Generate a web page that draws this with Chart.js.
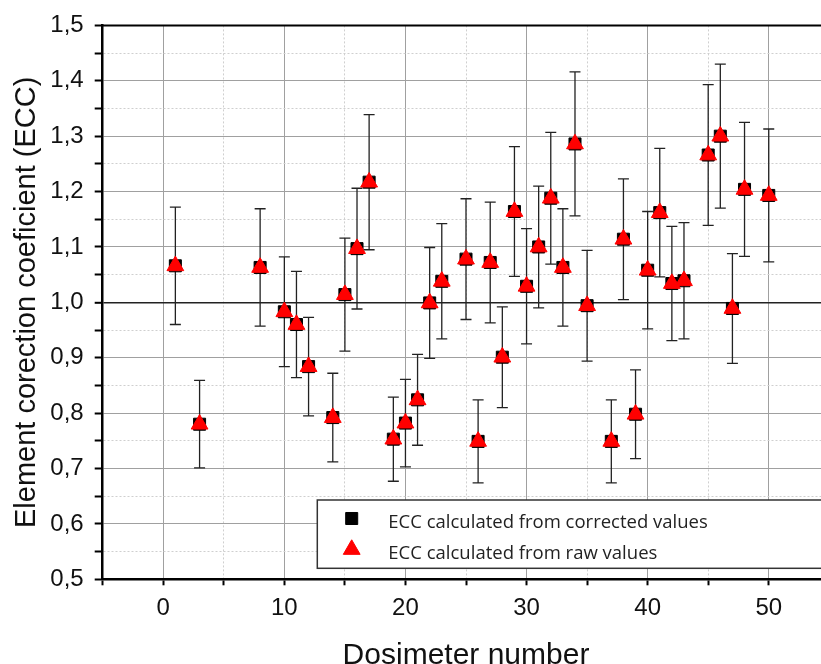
<!DOCTYPE html>
<html>
<head>
<meta charset="utf-8">
<title>ECC per dosimeter</title>
<script src="https://cdn.jsdelivr.net/npm/chart.js@4/dist/chart.umd.min.js"></script>
<style>
  html, body { margin: 0; padding: 0; background: #fff; overflow: hidden; }
  #wrap { position: relative; width: 840px; height: 680px; }
</style>
</head>
<body>
<div id="wrap"><canvas id="chart" width="840" height="680"></canvas></div>
<script>
// ── Données ──────────────────────────────────────────────────────────────────
var dosimeters = [1, 3, 8, 10, 11, 12, 14, 15, 16, 17, 19, 20, 21, 22, 23, 25, 26, 27, 28,
                  29, 30, 31, 32, 33, 34, 35, 37, 38, 39, 40, 41, 42, 43, 45, 46, 47, 48, 50];

var eccCorrected = [1.066, 0.780, 1.063, 0.983, 0.960, 0.884, 0.792, 1.014, 1.097, 1.217,
                    0.753, 0.782, 0.824, 0.999, 1.038, 1.078, 0.749, 1.072, 0.901, 1.164,
                    1.029, 1.100, 1.188, 1.063, 1.286, 0.994, 0.749, 1.114, 0.798, 1.058,
                    1.162, 1.034, 1.039, 1.266, 1.300, 0.989, 1.204, 1.193];

var eccRaw       = [1.066, 0.780, 1.063, 0.983, 0.960, 0.884, 0.792, 1.014, 1.097, 1.217,
                    0.753, 0.782, 0.824, 0.999, 1.038, 1.078, 0.749, 1.072, 0.901, 1.164,
                    1.029, 1.100, 1.188, 1.063, 1.286, 0.994, 0.749, 1.114, 0.798, 1.058,
                    1.162, 1.034, 1.039, 1.266, 1.300, 0.989, 1.204, 1.193];

var eccError     = [0.106, 0.079, 0.106, 0.099, 0.096, 0.089, 0.080, 0.102, 0.109, 0.122,
                    0.076, 0.079, 0.082, 0.100, 0.104, 0.109, 0.075, 0.109, 0.091, 0.117,
                    0.104, 0.110, 0.119, 0.106, 0.130, 0.100, 0.075, 0.109, 0.080, 0.106,
                    0.116, 0.103, 0.105, 0.127, 0.130, 0.099, 0.121, 0.120];

var labelCorrected = 'ECC calculated from corrected values';
var labelRaw       = 'ECC calculated from raw values';
var xTitle = 'Dosimeter number';
var yTitle = 'Element corection coeficient (ECC)';

function toPoints(xs, ys) {
    return xs.map(function (x, i) { return { x: x, y: ys[i] }; });
}

function isMajorY(v) {
    return Math.abs(v * 10 - Math.round(v * 10)) < 1e-6;
}

var AXIS_FONT = 'Liberation Sans, Arial, sans-serif';

// ── Barres d'erreur (sous les marqueurs) ─────────────────────────────────────
var errorBars = {
    id: 'errorBars',
    beforeDatasetsDraw: function (chart) {
        var xs = chart.scales.x, ys = chart.scales.y, ctx = chart.ctx;
        ctx.save();
        ctx.strokeStyle = '#222';
        ctx.lineWidth = 1.3;
        for (var i = 0; i < dosimeters.length; i++) {
            var px = xs.getPixelForValue(dosimeters[i]);
            var top = ys.getPixelForValue(eccCorrected[i] + eccError[i]);
            var bot = ys.getPixelForValue(eccCorrected[i] - eccError[i]);
            ctx.beginPath();
            ctx.moveTo(px, top); ctx.lineTo(px, bot);
            ctx.moveTo(px - 5.5, top); ctx.lineTo(px + 5.5, top);
            ctx.moveTo(px - 5.5, bot); ctx.lineTo(px + 5.5, bot);
            ctx.stroke();
        }
        ctx.restore();
    }
};

// ── Cadre haut + légende dans la zone du graphique ───────────────────────────
var frameAndLegend = {
    id: 'frameAndLegend',
    afterDraw: function (chart) {
        var ctx = chart.ctx, a = chart.chartArea;
        ctx.save();
        ctx.strokeStyle = '#000';
        ctx.lineWidth = 2;
        ctx.beginPath();
        ctx.moveTo(a.left, a.top);
        ctx.lineTo(a.right, a.top);
        ctx.stroke();

        var bx = a.left + 214.6, by = a.bottom - 79.3, bw = a.right - bx - 4, bh = 68.3;
        ctx.fillStyle = '#fff';
        ctx.fillRect(bx, by, bw, bh);
        ctx.strokeStyle = '#333';
        ctx.lineWidth = 1.5;
        ctx.strokeRect(bx, by, bw, bh);

        var rows = [
            { ds: chart.data.datasets[1], y: by + 18.5 },
            { ds: chart.data.datasets[0], y: by + 49.5 }
        ];
        ctx.font = '18.5px "Open Sans", "Noto Sans", sans-serif';
        ctx.textBaseline = 'middle';
        ctx.textAlign = 'left';
        rows.forEach(function (r) {
            var ds = r.ds;
            ctx.fillStyle = ds.backgroundColor;
            ctx.strokeStyle = ds.borderColor;
            ctx.lineWidth = 1;
            Chart.helpers.drawPoint(ctx, {
                pointStyle: ds.pointStyle,
                radius: ds.pointRadius,
                rotation: 0,
                borderWidth: 1
            }, bx + 34.4, r.y);
            ctx.fillStyle = '#222';
            ctx.fillText(ds.label, bx + 71, r.y + 4);
        });
        ctx.restore();
    }
};

var ctx = document.getElementById('chart').getContext('2d');
new Chart(ctx, {
    type: 'scatter',
    data: {
        datasets: [{
            label: labelRaw,
            data: toPoints(dosimeters, eccRaw),
            pointStyle: 'triangle',
            pointRadius: 9.7,
            backgroundColor: '#ff0000',
            borderColor: '#ff0000',
            borderWidth: 1,
            order: 0
        }, {
            label: labelCorrected,
            data: toPoints(dosimeters, eccCorrected),
            pointStyle: 'rect',
            pointRadius: 8.5,
            backgroundColor: '#000000',
            borderColor: '#000000',
            borderWidth: 1,
            order: 1
        }]
    },
    options: {
        responsive: false,
        animation: false,
        events: [],
        layout: { padding: { top: 24.3, right: 7.7, left: 0, bottom: 0 } },
        plugins: {
            legend: { display: false },
            tooltip: { enabled: false }
        },
        scales: {
            x: {
                type: 'linear',
                position: 'bottom',
                min: -5,
                max: 55,
                afterFit: function (s) { s.height = 100.7; },
                ticks: {
                    stepSize: 5,
                    autoSkip: false,
                    maxRotation: 0,
                    padding: 9,
                    color: '#111',
                    font: { family: AXIS_FONT, size: 24 },
                    callback: function (v) { return v % 10 === 0 ? String(v) : ''; }
                },
                grid: {
                    color: function (c) {
                        return c.tick && c.tick.value % 10 === 0 ? '#a0a0a0' : '#cfcfcf';
                    },
                    lineWidth: 1,
                    tickColor: '#000',
                    tickWidth: 2,
                    tickLength: 6
                },
                border: {
                    color: '#000',
                    width: 2.5,
                    dash: function (c) {
                        return c.tick && c.tick.value % 10 !== 0 ? [2, 2] : [];
                    }
                },
                title: {
                    display: true,
                    text: xTitle,
                    color: '#111',
                    font: { family: AXIS_FONT, size: 30 },
                    padding: { top: 0, bottom: 6 }
                }
            },
            y: {
                type: 'linear',
                min: 0.5,
                max: 1.5,
                afterFit: function (s) { s.width = 102.7; },
                ticks: {
                    stepSize: 0.05,
                    autoSkip: false,
                    padding: 11,
                    color: '#111',
                    font: { family: AXIS_FONT, size: 24 },
                    callback: function (v) {
                        return isMajorY(v) ? v.toFixed(1).replace('.', ',') : '';
                    }
                },
                grid: {
                    color: function (c) {
                        if (!c.tick) return '#a0a0a0';
                        if (Math.abs(c.tick.value - 1) < 1e-6) return '#222';
                        return isMajorY(c.tick.value) ? '#a0a0a0' : '#cfcfcf';
                    },
                    lineWidth: function (c) {
                        return c.tick && Math.abs(c.tick.value - 1) < 1e-6 ? 1.6 : 1;
                    },
                    tickColor: '#000',
                    tickWidth: 2,
                    tickLength: 8
                },
                border: {
                    color: '#000',
                    width: 2.5,
                    dash: function (c) {
                        return c.tick && !isMajorY(c.tick.value) ? [2, 2] : [];
                    }
                },
                title: {
                    display: true,
                    text: yTitle,
                    color: '#111',
                    font: { family: AXIS_FONT, size: 29 },
                    padding: { top: 10, bottom: 0 }
                }
            }
        }
    },
    plugins: [errorBars, frameAndLegend]
});
</script>
</body>
</html>
